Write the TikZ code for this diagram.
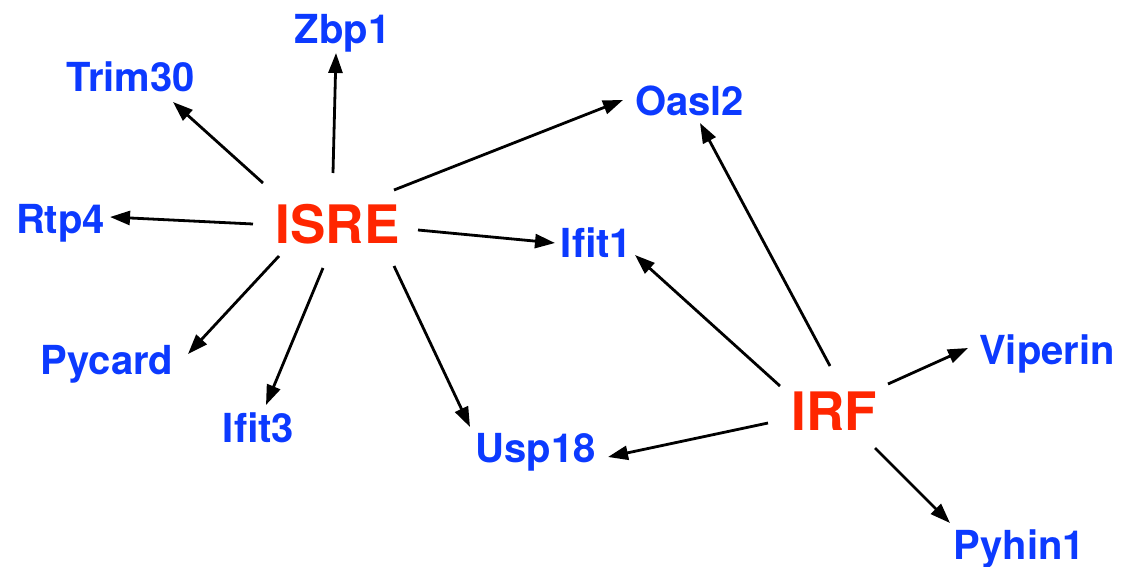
\documentclass[tikz,border=0pt]{standalone}
\usepackage{fontspec}
\setmainfont{TeX Gyre Heros}
\usetikzlibrary{arrows.meta}
\definecolor{genecol}{RGB}{12,58,255}
\definecolor{tfcol}{RGB}{255,38,0}
\begin{document}
\begin{tikzpicture}[x=1pt,y=-1pt,
  gene/.style={inner sep=0pt,text height=29pt,text depth=0pt,text=genecol,
    font=\fontsize{40}{48}\selectfont\bfseries},
  tf/.style={inner sep=0pt,text height=38pt,text depth=0pt,text=tfcol,
    font=\fontsize{53}{60}\selectfont\bfseries},
  link/.style={line width=2.8pt,-{Triangle[length=20pt,width=14pt]}}]
\useasboundingbox (0,0) rectangle (1129,567);

% regulators
\node[tf] (isre) at (337.5,224) {ISRE};
\node[tf] (irf)  at (834.5,411) {IRF};

% target genes
\node[gene] (zbp1)    at (342.5,29.5) {Zbp1};
\node[gene] (trim30)  at (130.5,77.5) {Trim30};
\node[gene] (rtp4)    at (60.5,219)   {Rtp4};
\node[gene] (pycard)  at (107,359.5)  {Pycard};
\node[gene] (ifit3)   at (258.5,428)  {Ifit3};
\node[gene] (usp18)   at (535.5,447.5){Usp18};
\node[gene] (ifit1)   at (596.5,243)  {Ifit1};
\node[gene] (oasl2)   at (689.5,101.5){Oasl2};
\node[gene] (viperin) at (1047,350)   {Viperin};
\node[gene] (pyhin1)  at (1019.5,545) {Pyhin1};

% ISRE targets
\draw[link] ([shift={(-4.5,-51)}]isre.center)  -- ([shift={(-6.5,23.5)}]zbp1.center);
\draw[link] ([shift={(-74.5,-41)}]isre.center) -- ([shift={(42.5,24.5)}]trim30.center);
\draw[link] ([shift={(-84.5,0)}]isre.center)   -- ([shift={(49.5,-2)}]rtp4.center);
\draw[link] ([shift={(-58.5,32)}]isre.center)  -- ([shift={(81,-5.5)}]pycard.center);
\draw[link] ([shift={(-14.5,44)}]isre.center)  -- ([shift={(7.5,-23)}]ifit3.center);
\draw[link] ([shift={(56.5,42)}]isre.center)   -- ([shift={(-65.5,-20.5)}]usp18.center);
\draw[link] ([shift={(80.5,6)}]isre.center)    -- ([shift={(-41.5,0)}]ifit1.center);
\draw[link] ([shift={(56.5,-34)}]isre.center)  -- ([shift={(-66.5,-1.5)}]oasl2.center);

% IRF targets
\draw[link] ([shift={(-4.5,-45)}]irf.center)   -- ([shift={(10.5,21.5)}]oasl2.center);
\draw[link] ([shift={(-54.5,-25)}]irf.center)  -- ([shift={(38.5,12)}]ifit1.center);
\draw[link] ([shift={(-66.5,12)}]irf.center)   -- ([shift={(72.5,9.5)}]usp18.center);
\draw[link] ([shift={(53.5,-27)}]irf.center)   -- ([shift={(-79,-2)}]viperin.center);
\draw[link] ([shift={(40.5,37)}]irf.center)    -- ([shift={(-69.5,-22)}]pyhin1.center);
\end{tikzpicture}
\end{document}
